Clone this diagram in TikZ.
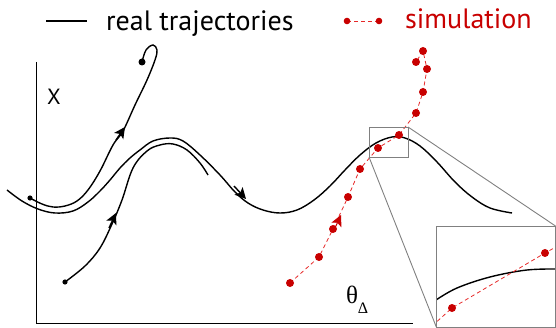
\documentclass[tikz,border=0pt]{standalone}
\usepackage{fontspec}
\setsansfont{PT Sans}
\newfontfamily\greekfont{Liberation Serif}
\usetikzlibrary{arrows.meta}

\definecolor{simred}{RGB}{200,0,0}
\definecolor{simdash}{RGB}{230,40,40}
\definecolor{zoomgray}{RGB}{128,128,128}

\tikzset{
  traj/.style={line width=1.4pt, black},
  axisline/.style={line width=0.9pt, black},
  simpath/.style={dashed, dash pattern=on 4pt off 3pt, line width=0.8pt, simdash},
  midarrow/.style={-{Stealth[length=11pt,width=11pt,inset=2.5pt]}, line width=1.4pt},
  zoomline/.style={line width=0.9pt, zoomgray},
  lbl/.style={inner sep=0pt, font=\sffamily\fontsize{28}{28}\selectfont}
}

\begin{document}
\begin{tikzpicture}[x=1pt,y=-1pt]
    \useasboundingbox (0,0) rectangle (556,328);

    % Legend
    \draw[line width=1.2pt] (46,21) -- (87,21);
    \node[lbl, anchor=base west] (legreal) at (106,31) {real trajectories};
    \draw[simpath] (347,21) -- (379,21);
    \fill[simred] (347,21) circle (3.3pt);
    \fill[simred] (379,21) circle (3.3pt);
    \node[lbl, anchor=base west, text=simred] (legsim) at (405,29) {simulation};

    % Axes
    \draw[axisline] (36.5,62) -- (36.5,323) -- (413,323);
    \node[lbl, font=\sffamily\fontsize{22}{22}\selectfont] (xlbl) at (54,97) {X};
    \node[inner sep=0pt, font=\greekfont\fontsize{25}{25}\selectfont] (thetalbl) at (352,295) {θ};
    \node[inner sep=0pt, font=\greekfont\fontsize{16}{16}\selectfont] (deltalbl) at (363,308) {Δ};

    % Real trajectories
    \draw[traj] plot[smooth, tension=0.6] coordinates {(7,190) (22,201) (38,209) (55,213) (73,211) (88,202) (100,191) (110,180) (120,168) (130,158) (140,150) (153,141) (170,138) (183,141) (200,155) (220,175) (235,192) (248,203) (263,210) (280,213) (297,210) (314,200) (330,186) (345,170) (360,155) (376,143) (392,137) (405,138) (420,146) (437,162) (455,182) (472,197) (490,208) (512,213)};
    \draw[traj] plot[smooth, tension=0.6] coordinates {(65,282) (85,266) (100,248) (112,224) (122,200) (133,168) (147,151) (160,145) (173,144) (187,150) (200,163) (208,175)};
    \draw[traj] plot[smooth, tension=0.6] coordinates {(30,198) (42,204) (53,207) (65,206) (77,201) (88,190) (100,171) (113,145) (123,131) (135,105) (147,80) (155,60) (157,50) (153,45) (146,50) (142,62)};
    \draw[midarrow] (234,186) -- (246,199);
    \draw[midarrow] (116,140) -- (125,127);
    \draw[midarrow] (109,228) -- (116,213);
    \fill (30,198) circle (2.6pt);
    \fill (65,282) circle (2.6pt);
    \fill (142,62) circle (3.5pt);

    % Simulation
    \draw[simpath] (290,283) -- (319,257) -- (333,229) -- (348,197) -- (360,169) -- (378,148) -- (399,135) -- (416,113) -- (423,92) -- (427,69) -- (423,51) -- (416,62);
    \draw[midarrow, simred, line width=1pt] (335,228) -- (341,215);
    \foreach \p in {(290,283),(319,257),(333,229),(348,197),(360,169),(378,148),(399,135),(416,113),(423,92),(427,69),(423,51),(416,62)}
        \fill[simred] \p circle (4pt);

    % Zoom box and inset
    \coordinate (zoomsw) at (369,157);
    \coordinate (zoomne) at (408,127);
    \coordinate (insetsw) at (436.5,327.5);
    \coordinate (insetne) at (555.5,226);
    \draw[zoomline] (zoomsw) rectangle (zoomne);
    \draw[zoomline] (zoomsw) -- (insetsw);
    \draw[zoomline] (zoomne) -- (insetne);
    \begin{scope}
        \clip (insetsw) rectangle (insetne);
        \draw[traj] plot[smooth, tension=0.6] coordinates {(436,300) (457,288) (490,277) (527,270) (560,269)};
        \draw[simpath] (432,326) -- (452,308) -- (545,253) -- (565,242);
        \fill[simred] (452,308) circle (4pt);
        \fill[simred] (545,253) circle (4pt);
    \end{scope}
    \draw[zoomline] (insetsw) rectangle (insetne);
\end{tikzpicture}
\end{document}
